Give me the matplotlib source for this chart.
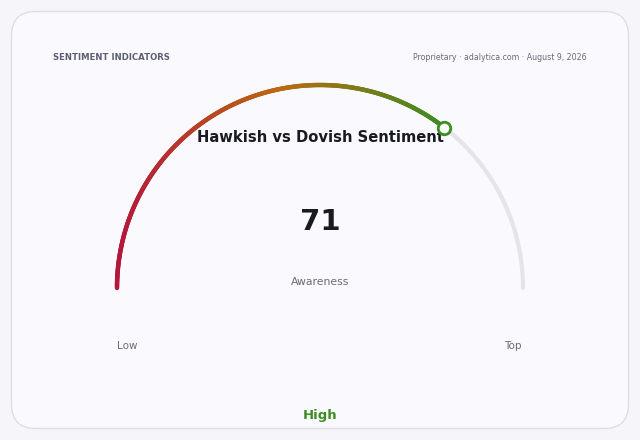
import numpy as np
import matplotlib
matplotlib.use("Agg")
import matplotlib.pyplot as plt
from matplotlib.collections import LineCollection
from matplotlib.colors import LinearSegmentedColormap
from matplotlib.patches import FancyBboxPatch

plt.rcParams["font.family"] = ["DejaVu Sans"]

# Data
value = 71
vmin, vmax = 0, 100
title = "Hawkish vs Dovish Sentiment"
metric_label = "Awareness"
min_label, max_label = "Low", "Top"
band_label = "High"
header_left = "SENTIMENT INDICATORS"
header_right = "Proprietary · adalytica.com · August 9, 2026"

W, H = 640, 440
fig = plt.figure(figsize=(W / 100, H / 100), dpi=100)
fig.patch.set_facecolor("#f6f6fa")
ax = fig.add_axes([0, 0, 1, 1])
ax.set_xlim(0, W)
ax.set_ylim(H, 0)
ax.axis("off")

card = FancyBboxPatch((11.5, 11.5), 617, 417, boxstyle="round,pad=0,rounding_size=24",
                      facecolor="#fafafe", edgecolor="#dcdde6", linewidth=1.0)
ax.add_patch(card)

cx, cy, r = 320, 288, 203
frac = (value - vmin) / (vmax - vmin)
a_end = np.pi * (1 - frac)

# background track
t = np.linspace(a_end, 0, 200)
ax.plot(cx + r * np.cos(t), cy - r * np.sin(t), color="#e4e4ea", lw=3.0,
        solid_capstyle="round", zorder=2)

# gradient value arc (horizontal linear gradient)
cmap = LinearSegmentedColormap.from_list("g", ["#b3173c", "#bb6a12", "#3d8c22"])
n = 400
t = np.linspace(np.pi, a_end, n)
xs, ys = cx + r * np.cos(t), cy - r * np.sin(t)
pts = np.column_stack([xs, ys]).reshape(-1, 1, 2)
segs = np.concatenate([pts[:-1], pts[1:]], axis=1)
xm = 0.5 * (xs[:-1] + xs[1:])
g = (xm - xs[0]) / (xs[-1] - xs[0])
lc = LineCollection(segs, colors=cmap(g), linewidths=3.2, capstyle="round", zorder=3)
ax.add_collection(lc)

ax.plot([cx + r * np.cos(a_end)], [cy - r * np.sin(a_end)], marker="o", ms=9,
        mfc="white", mec="#3d8c22", mew=2, zorder=4)

ax.text(53, 58, header_left, fontsize=6.1, fontweight="bold", color="#5c5d73",
        ha="left", va="center")
ax.text(587, 58, header_right, fontsize=5.7, color="#6a6b7a", ha="right", va="center")
ax.text(320, 137, title, fontsize=10.6, fontweight="bold", color="#1a1a22",
        ha="center", va="center")
ax.text(320, 222, f"{value}", fontsize=21, fontweight="bold", color="#1a1a22",
        ha="center", va="center")
ax.text(320, 282, metric_label, fontsize=7.8, color="#6a6b78", ha="center", va="center")
ax.text(127, 346, min_label, fontsize=7.5, color="#6a6b78", ha="center", va="center")
ax.text(513, 346, max_label, fontsize=7.5, color="#6a6b78", ha="center", va="center")
ax.text(320, 415, band_label, fontsize=9.5, fontweight="bold", color="#3d8c22",
        ha="center", va="center")

fig.savefig("out.png", dpi=100, facecolor=fig.get_facecolor())
